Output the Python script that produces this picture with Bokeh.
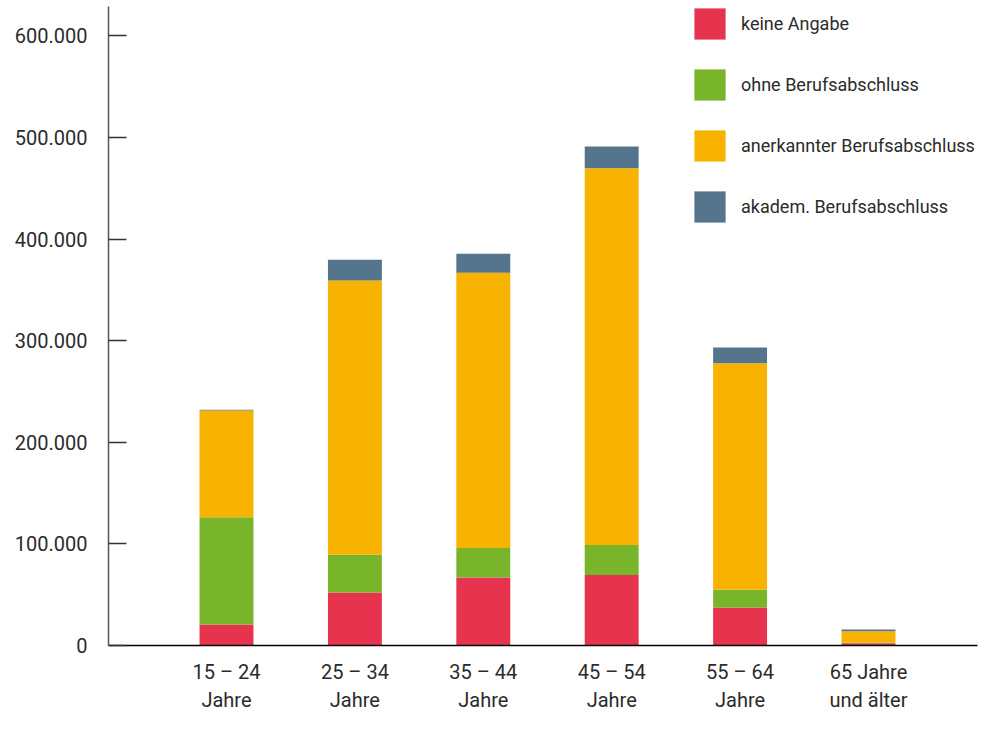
from bokeh.plotting import figure
from bokeh.models import Range1d, FixedTicker, Legend, LegendItem
from bokeh.embed import file_html
from bokeh.resources import INLINE

categories = ["15 – 24\nJahre", "25 – 34\nJahre", "35 – 44\nJahre",
              "45 – 54\nJahre", "55 – 64\nJahre", "65 Jahre\nund älter"]
keine_angabe = [20600, 52200, 66900, 69500, 37500, 2200]
ohne_abschluss = [105700, 37200, 29000, 29400, 17300, 700]
anerkannt = [105000, 269800, 271000, 370900, 223000, 11100]
akadem = [700, 20600, 18600, 21500, 15600, 1700]

series_names = ["keine Angabe", "ohne Berufsabschluss",
                "anerkannter Berufsabschluss", "akadem. Berufsabschluss"]
colors = ["#E6344F", "#79B52A", "#F8B200", "#55758C"]
y_ticks = [0, 100000, 200000, 300000, 400000, 500000, 600000]
y_tick_labels = ["0", "100.000", "200.000", "300.000", "400.000", "500.000", "600.000"]

FONT = "Roboto"
TXT = "#2b2b2b"

x_pos = list(range(len(categories)))
data = {"x": x_pos, "k": keine_angabe, "o": ohne_abschluss,
        "a": anerkannt, "d": akadem}

W, H = 978, 715
BL, BR, BT, BB = 108, 1, 6, 68
p = figure(width=W, height=H, output_backend="svg", toolbar_location=None,
           x_range=Range1d(-0.919, 5.849), y_range=Range1d(0, 629000))
p.min_border_left = BL
p.min_border_right = BR
p.min_border_top = BT
p.min_border_bottom = BB
p.outline_line_color = None
p.grid.grid_line_color = None
p.background_fill_color = "white"
p.border_fill_color = "white"

rs = p.vbar_stack(["k", "o", "a", "d"], x="x", width=0.42, source=data,
                  color=colors, line_color=None)

# y axis
ya = p.yaxis[0]
ya.ticker = FixedTicker(ticks=y_ticks)
ya.major_label_overrides = dict(zip(y_ticks, y_tick_labels))
ya.major_tick_in = 18
ya.major_tick_out = 0
ya.minor_tick_in = 0
ya.minor_tick_out = 0
ya.axis_line_color = "#555555"
ya.axis_line_width = 1.5
ya.major_tick_line_color = "#333333"
ya.major_tick_line_width = 1.5
ya.major_label_standoff = 21
ya.major_label_text_font = FONT
ya.major_label_text_font_size = "20px"
ya.major_label_text_color = TXT

# x axis
xa = p.xaxis[0]
xa.ticker = FixedTicker(ticks=x_pos)
xa.major_label_overrides = dict(zip(x_pos, categories))
xa.major_tick_in = 0
xa.major_tick_out = 0
xa.minor_tick_in = 0
xa.minor_tick_out = 0
xa.axis_line_color = "black"
xa.axis_line_width = 1.5
xa.major_label_standoff = 14
xa.major_label_text_font = FONT
xa.major_label_text_font_size = "20px"
xa.major_label_text_color = TXT
xa.major_label_text_line_height = 1.2

frame_h = H - BT - BB
leg_h = 4 * 39 + 3 * 22
items = [LegendItem(label=n, renderers=[r]) for n, r in zip(series_names, rs)]
legend = Legend(items=items, location=(582, frame_h - leg_h), orientation="vertical",
                glyph_width=39, glyph_height=39, label_height=39,
                spacing=22, padding=0, margin=0, label_standoff=12,
                border_line_color=None, background_fill_alpha=0,
                label_text_font=FONT, label_text_font_size="18px",
                label_text_color=TXT, label_text_baseline="middle")
p.add_layout(legend, "center")

open("out.html", "w").write(file_html(p, INLINE))
